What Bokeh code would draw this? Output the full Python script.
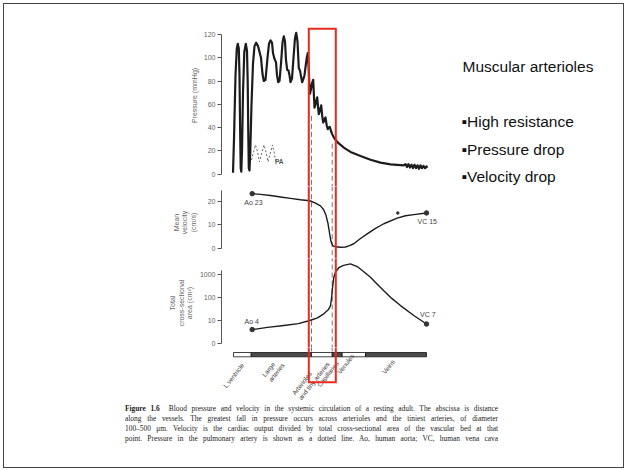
import math
from bokeh.plotting import figure
from bokeh.layouts import column
from bokeh.models import Range1d, FixedTicker, Div
from bokeh.embed import file_html
from bokeh.resources import INLINE
from bokeh.core.properties import value

# ---------------- data ----------------
# distance along the vascular tree (arbitrary units, 0 = start of L ventricle)
seg_names = ["L ventricle", "Large\narteries", "Arterioles\nand tiny arteries",
             "Capillaries", "Venules", "Veins"]
seg_start = [0.0, 17.7, 78.0, 98.7, 108.7, 132.0]
seg_end = [17.7, 78.0, 98.7, 108.7, 132.0, 193.0]
seg_fill = ["#ffffff", "#4a4a4a", "#ffffff", "#4a4a4a", "#ffffff", "#4a4a4a"]

pressure_x = [-0.5, 0.5, 2, 3.3, 4.3, 5.3, 6, 6.6, 7.2, 7.8, 8.5, 9.5, 10.8, 12.3, 13.5,
              14.2, 14.7, 15.3, 16, 16.8, 18, 19.5, 21, 22.7, 24.5, 26.3, 27.5, 29, 30.3,
              32, 34, 35.5, 37, 38.5, 39.5, 41, 42.5, 43.5, 44.7, 46, 47.5, 49, 50.3, 51.5,
              52.5, 53.7, 55, 56, 57, 58.5, 60, 61.5, 62.7, 64, 65.3, 66.5, 67.5, 68.7, 70,
              71, 72, 73.3, 74.3, 75, 75.8, 76.5, 77.5, 78.5, 79.7, 80.3, 81, 82, 83.7,
              84.5, 85.3, 86.5, 87.7, 88.7, 89.7, 91, 92, 93.2, 94.3, 95.3, 96.3, 97.5,
              98.7, 100.3, 102, 105, 110.3, 117, 127, 137, 147, 157, 170.3, 172, 173.5,
              175, 176.5, 178, 179.5, 181, 182.5, 184, 185.5, 187, 188.5, 190, 191.5, 193, 194]
pressure_y = [1, 30, 85, 108, 112, 108, 85, 40, 5, 2, 20, 70, 105, 112, 106,
              80, 40, 5, 3, 20, 60, 95, 110, 113, 110, 104, 100, 86, 80,
              81, 100, 112, 115, 113, 104, 99, 96, 85, 79, 80, 95, 113, 118.5, 114,
              98, 89.5, 89, 85, 79, 82, 100, 117, 121.5, 114, 91, 89, 84, 79, 82,
              85, 92, 100, 104, 95, 78, 69, 73, 78, 81, 70, 57, 60, 66,
              58, 51.5, 55, 59, 50, 44.3, 47, 48.6, 42, 38.6, 40, 40.6, 37,
              34.3, 31.5, 29.4, 26.5, 22.7, 19, 15.5, 12.3, 9.8, 8.3, 7.5, 8.5, 6,
              8.5, 5.5, 8, 5, 8, 5, 7.5, 4.5, 7.5, 5, 7, 5, 6.5, 5.5]

pa_x = [18, 20, 22, 24, 26, 28.3, 30.5, 32.5, 34.5, 36.8, 39, 40.8, 42]
pa_y = [12, 19, 25, 19, 10.5, 18, 25, 19, 10.5, 18, 25, 18, 11]

vel_x = [18.7, 27, 37, 47, 57, 67, 76.3, 82, 87, 90, 92.5, 94.5, 96, 97.2, 98.2, 99.5,
         102, 107, 112, 116, 120.3, 126, 133.7, 142, 150.3, 163.7, 172, 180.3, 193]
vel_y = [23.2, 22.9, 22.4, 21.8, 21.2, 20.6, 20.2, 19.2, 18.0, 16.5, 14, 10.5, 6.5, 3.5,
         2, 1.0, 0.6, 0.4, 0.5, 1.1, 1.9, 3.8, 6.1, 8.4, 10.4, 12.8, 13.8, 14.3, 15.0]

area_x = [18.7, 34, 50.3, 65, 76.3, 84, 90.3, 95, 97, 98, 98.7, 99.5, 100.3, 102, 105.3,
          110, 117, 123.7, 130, 137, 143, 150.3, 158, 167, 180.3, 193]
area_y = [4, 5, 6, 7.3, 10, 13, 19.6, 30, 45, 90, 204, 420, 780, 1300, 2040,
          2600, 3000, 2300, 1400, 780, 420, 200, 95, 45, 16.5, 7]

pressure_ticks = [0, 20, 40, 60, 80, 100, 120]
velocity_ticks = [0, 10, 20]
area_ticks = [1, 10, 100, 1000]
area_tick_text = ["0", "10", "100", "1000"]

vel_end_labels = ["Ao 23", "VC 15"]
area_end_labels = ["Ao 4", "VC 7"]

right_title = "Muscular arterioles"
right_bullets = ["\u25aaHigh resistance", "\u25aaPressure drop", "\u25aaVelocity drop"]

caption_head = "Figure 1.6"
caption_lines = [
    "Blood pressure and velocity in the systemic circulation of a resting adult. The abscissa is distance",
    "along the vessels. The greatest fall in pressure occurs across arterioles and the tiniest arteries, of diameter",
    "100\u2013500 \u03bcm. Velocity is the cardiac output divided by total cross-sectional area of the vascular bed at that",
    "point. Pressure in the pulmonary artery is shown as a dotted line. Ao, human aorta; VC, human vena cava",
]

# highlight box (distance units) and dashed markers
box_x0, box_x1 = 75.3, 102.3
dash_x = [seg_start[2], seg_start[3]]

# ---------------- geometry helpers (page pixel -> panel units) ----------------
SANS = "Liberation Sans"
SERIF = "Liberation Serif"
RED = "#ea2a1c"
INK = "#1c1c1c"
W = 619          # inner width (page x 4 .. 623)
LEFT = 217       # frame left at page x 221
D_BOTTOM = 404.0


def ux(px):
    return px - 233.0


def a_y(py):
    return (173.5 - py) / 1.1625


def b_y(py):
    return (247.7 - py) / 2.35


def c_y(py):
    return 10 ** (1 + (320.0 - py) / 22.85)


def d_y(py):
    return D_BOTTOM - py


def base_fig(h, yr, ytype="linear", yloc="left"):
    p = figure(width=W, height=h, x_range=Range1d(ux(221), ux(623)), y_range=yr,
               y_axis_type=ytype, x_axis_location=None, y_axis_location=yloc,
               toolbar_location=None, output_backend="svg", min_border_left=LEFT,
               min_border_right=0, min_border_top=0, min_border_bottom=0)
    p.outline_line_color = None
    p.grid.visible = False
    p.background_fill_color = "white"
    p.border_fill_color = "white"
    return p


def style_axis(ax, ticks, bounds, label, standoff):
    ax.ticker = FixedTicker(ticks=ticks)
    ax.bounds = bounds
    ax.major_tick_out = 4
    ax.major_tick_in = 0
    ax.minor_tick_out = 0
    ax.minor_tick_in = 0
    ax.axis_line_color = "#555555"
    ax.major_tick_line_color = "#555555"
    ax.major_label_text_font = SANS
    ax.major_label_text_font_size = "7px"
    ax.major_label_text_color = "#666666"
    ax.major_label_standoff = 2
    ax.axis_label = label
    ax.axis_label_text_font = SANS
    ax.axis_label_text_font_size = "7px"
    ax.axis_label_text_font_style = "normal"
    ax.axis_label_text_color = "#666666"
    ax.axis_label_standoff = standoff


# ---------------- panel A: pressure ----------------
pa = base_fig(182, Range1d(a_y(186), a_y(4)))
style_axis(pa.yaxis[0], pressure_ticks, (0, 120), "Pressure (mmHg)", 3)
pa.line(pressure_x, pressure_y, line_color=INK, line_width=2.2, line_join="round")
pa.line(pa_x, pa_y, line_color="#666666", line_width=1, line_dash="2 2")
pa.text(x=[pa_x[-1] - 0.5], y=[a_y(161)], text=["PA"], text_font=value(SANS),
        text_font_size="6.5px", text_color="#555555", text_baseline="middle",
        text_align="left", text_font_style="bold")
pa.segment(x0=dash_x, y0=[50, 26], x1=dash_x, y1=[-30, -30],
           line_color="#777777", line_width=1, line_dash="5 3")
pa.line([box_x0, box_x0, box_x1, box_x1], [a_y(400), a_y(28.3), a_y(28.3), a_y(400)],
        line_color=RED, line_width=2, line_join="miter")
pa.text(x=[ux(462)], y=[a_y(65.5)], text=[right_title], text_font=value(SANS),
        text_font_size="15.5px", text_color="#111111", text_baseline="middle")
pa.text(x=[ux(461)] * 3, y=[a_y(121.3), a_y(148.6), a_y(175.9)], text=right_bullets,
        text_font=value(SANS), text_font_size="15.5px", text_color="#111111",
        text_baseline="middle")

# ---------------- panel B: mean velocity ----------------
pb = base_fig(72, Range1d(b_y(258), b_y(186)))
style_axis(pb.yaxis[0], velocity_ticks, (0, 24.5), "Mean\nvelocity\n(cm/s)", 8)
pb.segment(x0=dash_x, y0=[40, 40], x1=dash_x, y1=[-10, -10],
           line_color="#777777", line_width=1, line_dash="5 3")
pb.line(vel_x, vel_y, line_color=INK, line_width=1.4, line_join="round")
pb.scatter([vel_x[0], vel_x[-1]], [vel_y[0], vel_y[-1]], size=4.5, color="#333333")
pb.scatter([ux(397.3)], [b_y(212.5)], size=2.5, color="#333333")
pb.text(x=[vel_x[0] + 1.3, vel_x[-1] + 0.7], y=[b_y(202), b_y(221)], text=vel_end_labels,
        text_font=value(SANS), text_font_size="7px", text_color="#444444",
        text_align="center", text_baseline="middle")
pb.segment(x0=[box_x0, box_x1], y0=[40, 40], x1=[box_x0, box_x1], y1=[-10, -10],
           line_color=RED, line_width=2)

# ---------------- panel C: cross-sectional area ----------------
pc = base_fig(89, Range1d(c_y(347), c_y(258)), ytype="log")
style_axis(pc.yaxis[0], area_ticks, (1, 1550), "Total\ncross-sectional\narea (cm\u00b2)", 4)
pc.yaxis[0].major_label_overrides = dict(zip(area_ticks, area_tick_text))
pc.segment(x0=dash_x, y0=[c_y(240)] * 2, x1=dash_x, y1=[c_y(370)] * 2,
           line_color="#777777", line_width=1, line_dash="5 3")
pc.line(area_x, area_y, line_color=INK, line_width=1.4, line_join="round")
pc.scatter([area_x[0], area_x[-1]], [area_y[0], area_y[-1]], size=4.5, color="#333333")
pc.text(x=[area_x[0] - 0.5, area_x[-1] + 1.3], y=[c_y(320.5), c_y(313.5)], text=area_end_labels,
        text_font=value(SANS), text_font_size="7px", text_color="#444444",
        text_align="center", text_baseline="middle")
pc.segment(x0=[box_x0, box_x1], y0=[c_y(240)] * 2, x1=[box_x0, box_x1], y1=[c_y(370)] * 2,
           line_color=RED, line_width=2)

# ---------------- panel D: vessel bar and rotated labels ----------------
d_h = int(D_BOTTOM - 347)
pd_ = base_fig(d_h, Range1d(0, d_h), yloc=None)
pd_.segment(x0=dash_x, y0=[d_y(330)] * 2, x1=dash_x, y1=[d_y(352)] * 2,
            line_color="#777777", line_width=1, line_dash="5 3")
pd_.quad(left=seg_start, right=seg_end, top=d_y(352), bottom=d_y(356.3),
         fill_color=seg_fill, line_color="#111111", line_width=0.8)
label_px = [224, 266, 296, 318, 338, 383]
label_py = [386.5, 378, 396, 385.5, 372.5, 372.5]
pd_.text(x=[ux(v) for v in label_px], y=[d_y(v) for v in label_py], text=seg_names,
         angle=52, angle_units="deg", text_align="left", text_baseline="middle",
         text_font=value(SANS), text_font_size="6.5px", text_color="#444444",
         text_line_height=1.15)
pd_.line([box_x0, box_x0, box_x1, box_x1], [d_y(330), d_y(381.7), d_y(381.7), d_y(330)],
         line_color=RED, line_width=2, line_join="miter")

# ---------------- caption ----------------
cap_html = (
    '<div style="margin:0 0 0 121px; padding-top:0.4px; width:373px; '
    "font-family:'Liberation Serif',serif; font-size:7.4px; line-height:9.9px; "
    'color:#222; text-align:justify; text-align-last:justify;">'
    "<b>" + caption_head + "</b>&nbsp; " + "<br>".join(caption_lines) + "</div>"
)
cap = Div(text=cap_html, width=W, height=int(467 - D_BOTTOM),
          styles={"margin": "0", "padding": "0", "background-color": "white"})

layout = column(pa, pb, pc, pd_, cap, spacing=0,
                styles={"border": "1px solid #444444", "margin": "3px 0 0 3px",
                        "background-color": "white"})

with open("out.html", "w") as f:
    f.write(file_html(layout, INLINE))
